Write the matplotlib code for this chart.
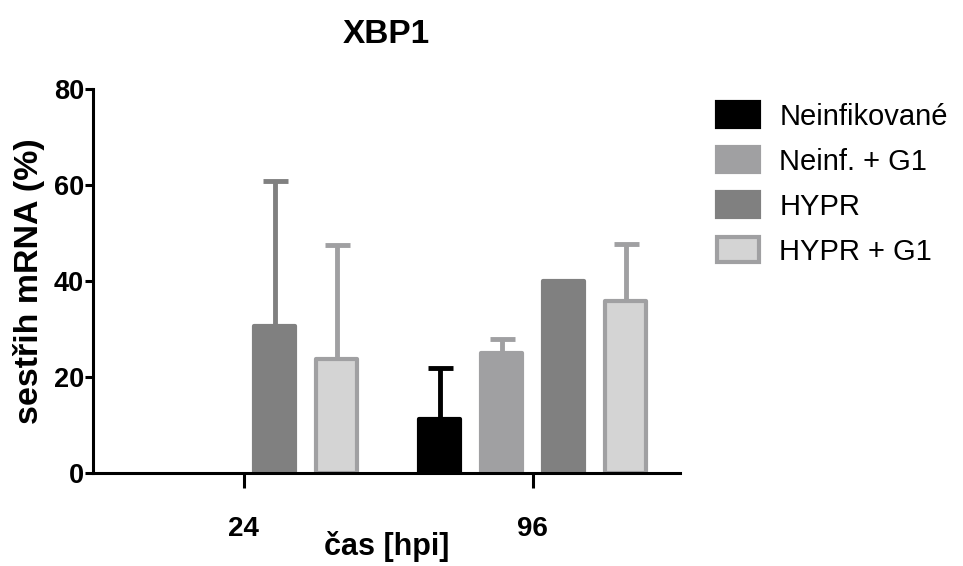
import numpy as np
import matplotlib
matplotlib.use('Agg')
from matplotlib import pyplot as plt
from matplotlib.patches import Patch

plt.rcParams['font.family'] = ['Liberation Sans', 'DejaVu Sans']

# data
times = ['24', '96']
groups = ['Neinfikované', 'Neinf. + G1', 'HYPR', 'HYPR + G1']
neinf = [np.nan, 11.2]
neinf_g1 = [np.nan, 25.0]
hypr = [30.6, 40.0]
hypr_g1 = [23.8, 35.8]
neinf_err = [np.nan, 10.7]
neinf_g1_err = [np.nan, 2.9]
hypr_err = [30.2, 0.0]
hypr_g1_err = [23.7, 11.9]

means = [neinf, neinf_g1, hypr, hypr_g1]
errs = [neinf_err, neinf_g1_err, hypr_err, hypr_g1_err]
faces = ['#000000', '#a0a0a2', '#808080', '#d4d4d4']
edges = ['#000000', '#a0a0a2', '#808080', '#a0a0a2']

fig = plt.figure(figsize=(9.63, 5.66), dpi=100)
ax = fig.add_axes([0.0966, 0.1643, 0.6095, 0.6785])

x = np.arange(len(times))
step = 0.2145
width = 0.142
for i in range(4):
    pos = x + (i - 1.5) * step
    bars = ax.bar(pos, means[i], width, color=faces[i], edgecolor=edges[i],
                  linewidth=3, zorder=2, label=groups[i])
    for b in bars:
        b.set_joinstyle('round')
    e = np.array(errs[i])
    ax.errorbar(pos, means[i], yerr=[np.zeros_like(e), e], fmt='none',
                ecolor=edges[i], elinewidth=3.5, capsize=9, capthick=3.5,
                zorder=1)

ax.set_xlim(-0.522, 1.509)
ax.set_ylim(0, 80)
ax.set_yticks([0, 20, 40, 60, 80])
ax.set_xticks(x)
ax.set_xticklabels(times)
for s in ['top', 'right']:
    ax.spines[s].set_visible(False)
for s in ['left', 'bottom']:
    ax.spines[s].set_linewidth(2.2)
ax.tick_params(axis='y', length=5.5, width=2.2, labelsize=19.5, pad=1)
ax.tick_params(axis='x', length=11, width=2.2, labelsize=20, pad=20)
for lbl in ax.get_xticklabels() + ax.get_yticklabels():
    lbl.set_fontweight('bold')

ax.set_title('XBP1', fontsize=24, fontweight='bold', pad=33)
ax.set_ylabel('sestřih mRNA (%)', fontsize=24.5, fontweight='bold', labelpad=6)
ax.set_xlabel('čas [hpi]', fontsize=22, fontweight='bold', labelpad=-8)

handles = [Patch(facecolor=faces[i], edgecolor=edges[i], linewidth=3, label=groups[i])
           for i in range(4)]
fig.legend(handles=handles, loc='upper left', bbox_to_anchor=(0.717, 0.866),
           frameon=False, fontsize=21, handlelength=1.45, handleheight=0.95,
           labelspacing=0.56, handletextpad=0.7)

fig.savefig('out.png', dpi=100)
